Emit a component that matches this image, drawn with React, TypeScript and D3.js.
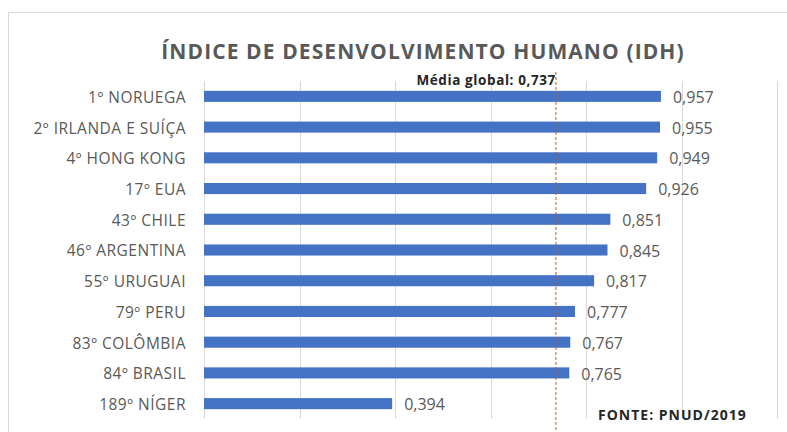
import React, { useRef, useEffect } from "react";
import * as d3 from "d3";

// IDH 2019 (PNUD)
const countries = [
  "1º NORUEGA",
  "2º IRLANDA E SUÍÇA",
  "4º HONG KONG",
  "17º EUA",
  "43º CHILE",
  "46º ARGENTINA",
  "55º URUGUAI",
  "79º PERU",
  "83º COLÔMBIA",
  "84º BRASIL",
  "189º NÍGER",
];
const idhValues = [0.957, 0.955, 0.949, 0.926, 0.851, 0.845, 0.817, 0.777, 0.767, 0.765, 0.394];
const gridTicks = [0, 0.2, 0.4, 0.6, 0.8, 1.0, 1.2];
const globalMean = 0.737;

const W = 787;
const H = 432;
const FONT = "'Open Sans', 'Liberation Sans', sans-serif";

const fmt = (v: number) => v.toFixed(3).replace(".", ",");

const App: React.FC = () => {
  const svgRef = useRef<SVGSVGElement>(null);

  useEffect(() => {
    if (!svgRef.current) return;
    const svg = d3.select(svgRef.current);
    svg.selectAll("*").remove();

    // chart area border
    svg
      .append("rect")
      .attr("x", 8.5)
      .attr("y", 12.5)
      .attr("width", W + 10)
      .attr("height", H)
      .attr("fill", "#fff")
      .attr("stroke", "#d9d9d9");

    const x = d3.scaleLinear().domain([0, 1.2]).range([204, 777]);
    const y = d3
      .scaleBand()
      .domain(countries)
      .range([81, 419])
      .paddingInner(0.64)
      .paddingOuter(0.32);

    // title
    svg
      .append("text")
      .attr("x", 423)
      .attr("y", 59)
      .attr("text-anchor", "middle")
      .attr("font-family", FONT)
      .attr("font-size", 21)
      .attr("font-weight", "bold")
      .attr("letter-spacing", 1.1)
      .attr("fill", "#595959")
      .text("ÍNDICE DE DESENVOLVIMENTO HUMANO (IDH)");

    // vertical gridlines
    svg
      .append("g")
      .selectAll("line")
      .data(gridTicks)
      .join("line")
      .attr("x1", (d) => Math.round(x(d)) + 0.5)
      .attr("x2", (d) => Math.round(x(d)) + 0.5)
      .attr("y1", 81)
      .attr("y2", 419)
      .attr("stroke", "#d9d9d9")
      .attr("stroke-width", 1);

    // bars
    svg
      .append("g")
      .selectAll("rect")
      .data(idhValues)
      .join("rect")
      .attr("x", x(0))
      .attr("y", (_, i) => y(countries[i]) as number)
      .attr("width", (d) => x(d) - x(0))
      .attr("height", y.bandwidth())
      .attr("fill", "#4472c4");

    // category labels
    svg
      .append("g")
      .selectAll("text")
      .data(countries)
      .join("text")
      .attr("x", 186)
      .attr("y", (d) => (y(d) as number) + y.bandwidth() / 2 + 1)
      .attr("dy", "0.35em")
      .attr("text-anchor", "end")
      .attr("font-family", FONT)
      .attr("font-size", 15.5)
      .attr("letter-spacing", 0.5)
      .attr("fill", "#595959")
      .text((d) => d);

    // value labels
    svg
      .append("g")
      .selectAll("text")
      .data(idhValues)
      .join("text")
      .attr("x", (d) => x(d) + 12)
      .attr("y", (_, i) => (y(countries[i]) as number) + y.bandwidth() / 2 + 1)
      .attr("dy", "0.35em")
      .attr("font-family", FONT)
      .attr("font-size", 16)
      .attr("fill", "#595959")
      .text((d) => fmt(d));

    // global mean dashed line
    const mx = x(globalMean);
    svg
      .append("line")
      .attr("x1", mx)
      .attr("x2", mx)
      .attr("y1", 72)
      .attr("y2", 432)
      .attr("stroke", "#c55a11")
      .attr("stroke-width", 1)
      .attr("stroke-dasharray", "3,2");

    svg
      .append("text")
      .attr("x", mx)
      .attr("y", 85)
      .attr("text-anchor", "end")
      .attr("font-family", FONT)
      .attr("font-size", 13.5)
      .attr("font-weight", "bold")
      .attr("letter-spacing", 0.6)
      .attr("fill", "#262626")
      .text(`Média global: ${fmt(globalMean)}`);

    // source
    svg
      .append("text")
      .attr("x", 598)
      .attr("y", 420)
      .attr("font-family", FONT)
      .attr("font-size", 14)
      .attr("font-weight", "bold")
      .attr("letter-spacing", 1)
      .attr("fill", "#262626")
      .text("FONTE: PNUD/2019");
  }, []);

  return (
    <svg
      ref={svgRef}
      width={W}
      height={H}
      style={{ position: "absolute", left: 0, top: 0 }}
    />
  );
};

export default App;
